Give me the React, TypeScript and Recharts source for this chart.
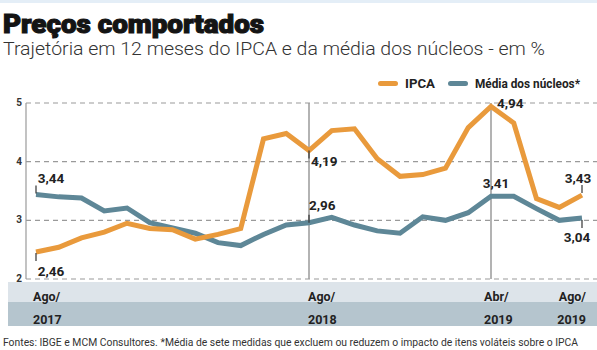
import { LineChart, Line, XAxis, YAxis, CartesianGrid, ReferenceLine, LabelList } from "recharts";

const months = [
  "ago/17", "set/17", "out/17", "nov/17", "dez/17",
  "jan/18", "fev/18", "mar/18", "abr/18", "mai/18", "jun/18", "jul/18", "ago/18",
  "set/18", "out/18", "nov/18", "dez/18",
  "jan/19", "fev/19", "mar/19", "abr/19", "mai/19", "jun/19", "jul/19", "ago/19",
];
const ipca = [2.46, 2.54, 2.7, 2.8, 2.95, 2.86, 2.84, 2.68, 2.76, 2.86, 4.39, 4.48, 4.19, 4.53, 4.56, 4.05, 3.75, 3.78, 3.89, 4.58, 4.94, 4.66, 3.37, 3.22, 3.43];
const nucleos = [3.44, 3.4, 3.38, 3.16, 3.21, 2.96, 2.87, 2.78, 2.62, 2.57, 2.76, 2.92, 2.96, 3.05, 2.92, 2.82, 2.78, 3.06, 3.0, 3.13, 3.41, 3.41, 3.2, 3.0, 3.04];
const yTicks = [2, 3, 4, 5];
const xTickMonths = ["ago/17", "ago/18", "abr/19", "ago/19"];
const xTickTop = ["Ago/", "Ago/", "Abr/", "Ago/"];
const xTickYear = ["2017", "2018", "2019", "2019"];

const ORANGE = "#E99A3C";
const TEAL = "#5E8797";
const FONT = "Roboto, 'Liberation Sans', sans-serif";

const data = months.map((m, i) => ({ month: m, ipca: ipca[i], nucleos: nucleos[i] }));

// where each highlighted value label sits relative to its point
type Note = { dx: number; dy: number; anchor: "start" | "middle" | "end"; tick?: [number, number] };
const ipcaNotes: Record<number, Note> = {
  0: { dx: 15, dy: 24, anchor: "middle", tick: [1, 9] },
  12: { dx: 2, dy: 15, anchor: "start", tick: [0, 8] },
  20: { dx: 6, dy: 1, anchor: "start" },
  24: { dx: -4, dy: -12, anchor: "middle", tick: [-10, -2] },
};
const nucleosNotes: Record<number, Note> = {
  0: { dx: 15, dy: -12, anchor: "middle", tick: [-9, -1] },
  12: { dx: 0, dy: -13, anchor: "start", tick: [-8, 0] },
  20: { dx: 5, dy: -8, anchor: "middle" },
  24: { dx: -5, dy: 24, anchor: "middle", tick: [2, 10] },
};
const xTickStyle = [
  { dx: -3, anchor: "start" },
  { dx: -1, anchor: "start" },
  { dx: -7, anchor: "start" },
  { dx: 4, anchor: "end" },
];

const fmt = (v: number) => v.toFixed(2).replace(".", ",");

function noteLabel(notes: Record<number, Note>) {
  return (props: any) => {
    const { x, y, index, value } = props;
    const n = notes[index];
    if (!n) return null;
    return (
      <g>
        {n.tick && <line x1={x} x2={x} y1={y + n.tick[0]} y2={y + n.tick[1]} stroke="#333" strokeWidth={1.2} />}
        <text x={x + n.dx} y={y + n.dy} textAnchor={n.anchor} fontFamily={FONT} fontWeight={700} fontSize={13.5} fill="#222">
          {fmt(value)}
        </text>
      </g>
    );
  };
}

function XTick(props: any) {
  const { x, y, payload } = props;
  const i = xTickMonths.indexOf(payload.value);
  if (i < 0) return null;
  const s = xTickStyle[i];
  return (
    <g fontFamily={FONT} fontWeight={700} fontSize={12.5} fill="#222">
      <text x={x + s.dx} y={y + 14} textAnchor={s.anchor}>{xTickTop[i]}</text>
      <text x={x + s.dx} y={y + 37} textAnchor={s.anchor}>{xTickYear[i]}</text>
    </g>
  );
}

function YTick(props: any) {
  const { x, y, payload } = props;
  return (
    <text x={x + 1} y={y + 3} textAnchor="middle" fontFamily={FONT} fontWeight={700} fontSize={10} fill="#333">
      {payload.value}
    </text>
  );
}

export default function App() {
  return (
    <div style={{ position: "absolute", left: 0, top: 0, width: 597, height: 350, background: "#fff", overflow: "hidden" }}>
      <div style={{ position: "absolute", left: 0, top: 0, width: 597, height: 3, background: "#e4eef7" }} />
      <div style={{ position: "absolute", left: 8, top: 282, width: 589, height: 20, background: "#dde4ea" }} />
      <div style={{ position: "absolute", left: 8, top: 302, width: 589, height: 24, background: "#b5c5ce" }} />

      <svg width={597} height={350} style={{ position: "absolute", left: 0, top: 0 }}>
        <text x={3} y={33} fontFamily={FONT} fontWeight={900} fontSize={25} fill="#141414" stroke="#141414" strokeWidth={1.1} textLength={261} lengthAdjust="spacingAndGlyphs">
          Preços comportados
        </text>
        <text x={3} y={55} fontFamily={FONT} fontWeight={300} fontSize={19} fill="#333" textLength={542} lengthAdjust="spacingAndGlyphs">
          Trajetória em 12 meses do IPCA e da média dos núcleos - em %
        </text>
        <rect x={378} y={81} width={20} height={5} rx={2.5} fill={ORANGE} />
        <text x={405} y={87.5} fontFamily={FONT} fontWeight={700} fontSize={12.5} fill="#222" textLength={30} lengthAdjust="spacingAndGlyphs">
          IPCA
        </text>
        <rect x={448} y={81} width={20} height={5} rx={2.5} fill={TEAL} />
        <text x={475} y={87.5} fontFamily={FONT} fontWeight={700} fontSize={12.5} fill="#222" textLength={105} lengthAdjust="spacingAndGlyphs">
          Média dos núcleos*
        </text>
        <text x={3} y={346} fontFamily={FONT} fontSize={10.5} fill="#333" textLength={575} lengthAdjust="spacingAndGlyphs">
          Fontes: IBGE e MCM Consultores. *Média de sete medidas que excluem ou reduzem o impacto de itens voláteis sobre o IPCA
        </text>
      </svg>

      <div style={{ position: "absolute", left: 0, top: 0 }}>
        <LineChart width={597} height={350} data={data} margin={{ top: 103, right: 0, bottom: 31, left: 0 }}>
          <CartesianGrid vertical={false} stroke="#9a9a9a" strokeDasharray="5 4" strokeWidth={1.2} />
          <XAxis
            dataKey="month"
            interval={0}
            padding={{ left: 10, right: 15 }}
            axisLine={false}
            tickLine={false}
            height={40}
            tick={<XTick />}
          />
          <YAxis
            domain={[2, 5]}
            ticks={yTicks}
            width={26}
            axisLine={{ stroke: "#9a9a9a", strokeWidth: 1.2 }}
            tickLine={false}
            tick={<YTick />}
          />
          <ReferenceLine x="ago/18" stroke="#9a9a9a" strokeWidth={1.5} />
          <ReferenceLine x="abr/19" stroke="#9a9a9a" strokeWidth={1.5} />
          <Line type="linear" dataKey="nucleos" stroke={TEAL} strokeWidth={5} dot={false} isAnimationActive={false}>
            <LabelList dataKey="nucleos" content={noteLabel(nucleosNotes)} />
          </Line>
          <Line type="linear" dataKey="ipca" stroke={ORANGE} strokeWidth={5} dot={false} isAnimationActive={false}>
            <LabelList dataKey="ipca" content={noteLabel(ipcaNotes)} />
          </Line>
        </LineChart>
      </div>
    </div>
  );
}
